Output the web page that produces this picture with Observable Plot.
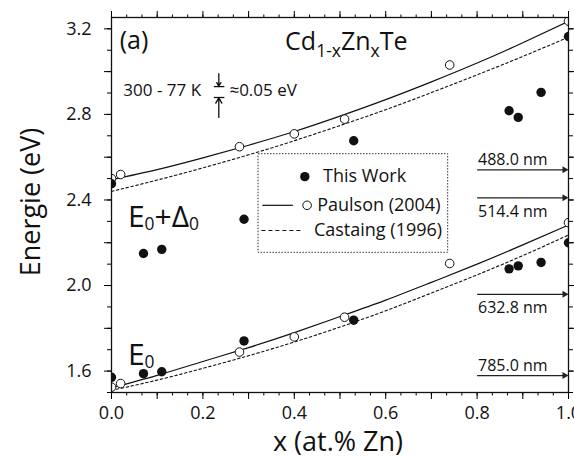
<!DOCTYPE html>
<html><head><meta charset="utf-8">
<script src="https://cdn.jsdelivr.net/npm/d3@7"></script>
<script src="https://cdn.jsdelivr.net/npm/@observablehq/plot@0.6"></script>
<style>
html,body{margin:0;padding:0;background:#fff;}
#chart svg{display:block;}
</style></head><body><div id="chart"></div>
<script>
// ---- data ----
const thisWorkX    = [0, 0.07, 0.11, 0.29, 0.53, 0.87, 0.89, 0.94, 1.0];
const thisWorkE0   = [1.571, 1.588, 1.597, 1.741, 1.838, 2.078, 2.092, 2.108, 2.200];
const thisWorkE0D0 = [2.476, 2.150, 2.169, 2.310, 2.677, 2.817, 2.786, 2.903, 3.164];

const paulsonX    = [0, 0.02, 0.28, 0.40, 0.51, 0.74, 1.0];
const paulsonE0   = [1.525, 1.542, 1.689, 1.760, 1.852, 2.103, 2.294];
const paulsonE0D0 = [2.500, 2.519, 2.649, 2.709, 2.778, 3.031, 3.236];

const curveX = [0, 0.1, 0.2, 0.3, 0.4, 0.5, 0.6, 0.7, 0.8, 0.9, 1.0];
const paulsonCurveE0    = [1.522, 1.580, 1.645, 1.710, 1.780, 1.855, 1.932, 2.015, 2.100, 2.190, 2.283];
const paulsonCurveE0D0  = [2.495, 2.542, 2.597, 2.656, 2.720, 2.792, 2.869, 2.952, 3.040, 3.135, 3.235];
const castaingCurveE0   = [1.510, 1.558, 1.613, 1.672, 1.736, 1.806, 1.882, 1.965, 2.050, 2.140, 2.236];
const castaingCurveE0D0 = [2.440, 2.493, 2.550, 2.611, 2.677, 2.748, 2.822, 2.902, 2.985, 3.071, 3.161];

const laserLabels = ["488.0 nm", "514.4 nm", "632.8 nm", "785.0 nm"];
const laserEnergy = [2.541, 2.410, 1.959, 1.579];
const laserLabelAbove = [true, false, false, true];

const legendLabels = ["This Work", "Paulson (2004)", "Castaing (1996)"];

const xLabelTicks = [0, 0.2, 0.4, 0.6, 0.8, 1];
const yLabelTicks = [1.6, 2.0, 2.4, 2.8, 3.2];
const xMajorTicks = [0, 0.1, 0.2, 0.3, 0.4, 0.5, 0.6, 0.7, 0.8, 0.9, 1];
const xMinorTicks = d3.range(0, 31).map(i => i / 30);
const yMajorTicks = [1.6, 1.8, 2.0, 2.2, 2.4, 2.6, 2.8, 3.0, 3.2];
const yMinorTicks = [1.5, 1.6, 1.7, 1.8, 1.9, 2.0, 2.1, 2.2, 2.3, 2.4, 2.5, 2.6, 2.7, 2.8, 2.9, 3.0, 3.1, 3.2];

// ---- tables ----
const thisWork = thisWorkX.flatMap((x, i) => [{x, y: thisWorkE0[i]}, {x, y: thisWorkE0D0[i]}]);
const paulson  = paulsonX.flatMap((x, i) => [{x, y: paulsonE0[i]}, {x, y: paulsonE0D0[i]}]);
const rows = (ys, band) => curveX.map((x, i) => ({x, y: ys[i], band}));
const paulsonCurves  = [...rows(paulsonCurveE0, "E0"), ...rows(paulsonCurveE0D0, "E0D0")];
const castaingCurves = [...rows(castaingCurveE0, "E0"), ...rows(castaingCurveE0D0, "E0D0")];
const lasers = laserLabels.map((label, i) => ({label, e: laserEnergy[i], above: laserLabelAbove[i]}));

const FONT = "Open Sans";
const ink = "#111";

const plot = Plot.plot({
  width: 574, height: 457,
  marginLeft: 111, marginRight: 6, marginTop: 17, marginBottom: 65,
  x: {domain: [0, 1], label: null},
  y: {domain: [1.5, 3.253], label: null},
  style: {fontFamily: FONT, fontSize: "18px", background: "white", color: "black", overflow: "visible"},
  marks: [
    // legend box
    Plot.rect([0], {x1: 0.3217, x2: 0.7367, y1: 2.153, y2: 2.614, fill: "white", stroke: "#333", strokeWidth: 1, strokeDasharray: "1.5,1.5"}),
    // curves
    Plot.line(paulsonCurves, {x: "x", y: "y", z: "band", curve: "natural", stroke: ink, strokeWidth: 1.2, clip: true}),
    Plot.line(castaingCurves, {x: "x", y: "y", z: "band", curve: "natural", stroke: ink, strokeWidth: 1.1, strokeDasharray: "2.5,2.5", clip: true}),
    // points
    Plot.dot(paulson, {x: "x", y: "y", r: 4.3, fill: "white", stroke: ink, strokeWidth: 1, clip: true}),
    Plot.dot(thisWork, {x: "x", y: "y", r: 4.7, fill: ink, stroke: "none", clip: true}),
    // laser lines
    Plot.link(lasers, {x1: 0.8, x2: 0.99, y1: "e", y2: "e", stroke: "#222", strokeWidth: 1.2}),
    Plot.dot(lasers, {x: 1, y: "e", symbol: "triangle", rotate: 90, r: 2.6, fill: "#222", dx: -4}),
    Plot.text(lasers.filter(d => d.above), {x: 0.802, y: "e", text: "label", dy: -10, textAnchor: "start", fontSize: 16, fill: ink}),
    Plot.text(lasers.filter(d => !d.above), {x: 0.802, y: "e", text: "label", dy: 14, textAnchor: "start", fontSize: 16, fill: ink}),
    // legend content
    Plot.dot([0], {x: 0.423, y: 2.509, r: 4.7, fill: ink}),
    Plot.text([legendLabels[0]], {x: 0.463, y: 2.509, text: d => d, textAnchor: "start", fontSize: 18, fill: ink}),
    Plot.link([0], {x1: 0.330, x2: 0.397, y1: 2.375, y2: 2.375, stroke: ink, strokeWidth: 1.2}),
    Plot.dot([0], {x: 0.428, y: 2.375, r: 4.3, fill: "white", stroke: ink, strokeWidth: 1}),
    Plot.text([legendLabels[1]], {x: 0.450, y: 2.375, text: d => d, textAnchor: "start", fontSize: 18, fill: ink}),
    Plot.link([0], {x1: 0.328, x2: 0.417, y1: 2.257, y2: 2.257, stroke: ink, strokeWidth: 1.1, strokeDasharray: "4,3"}),
    Plot.text([legendLabels[2]], {x: 0.443, y: 2.257, text: d => d, textAnchor: "start", fontSize: 18, fill: ink}),
    // 300-77 K annotation
    Plot.arrow([{x1: 0.2348, y1: 2.990, x2: 0.2348, y2: 2.932}, {x1: 0.2348, y1: 2.786, x2: 0.2348, y2: 2.877}],
      {x1: "x1", y1: "y1", x2: "x2", y2: "y2", headLength: 7, strokeWidth: 1.3, stroke: ink}),
    Plot.link([2.930, 2.879], {x1: 0.224, x2: 0.247, y1: d => d, y2: d => d, stroke: ink, strokeWidth: 1.3}),
    Plot.text(["300 - 77 K"], {x: 0.196, y: 2.911, text: d => d, textAnchor: "end", fontSize: 17, fill: ink}),
    Plot.text(["≈0.05 eV"], {x: 0.258, y: 2.911, text: d => d, textAnchor: "start", fontSize: 17, fill: ink}),
    Plot.text(["(a)"], {x: 0.018, y: 3.145, text: d => d, textAnchor: "start", fontSize: 25, fill: ink}),
    // axes: ticks
    Plot.axisX({anchor: "bottom", ticks: xMinorTicks, tickSize: 3.5, tickFormat: () => "", strokeWidth: 1}),
    Plot.axisX({anchor: "bottom", ticks: xMajorTicks, tickSize: 7, tickFormat: () => "", strokeWidth: 1}),
    Plot.axisX({anchor: "top", ticks: xMinorTicks, tickSize: 3.5, tickFormat: () => "", strokeWidth: 1}),
    Plot.axisX({anchor: "top", ticks: xMajorTicks, tickSize: 7, tickFormat: () => "", strokeWidth: 1}),
    Plot.axisY({anchor: "left", ticks: yMinorTicks, tickSize: 4, tickFormat: () => "", strokeWidth: 1}),
    Plot.axisY({anchor: "left", ticks: yMajorTicks, tickSize: 7, tickFormat: () => "", strokeWidth: 1}),
    Plot.axisY({anchor: "right", ticks: yMinorTicks, tickSize: 4, tickFormat: () => "", strokeWidth: 1}),
    Plot.axisY({anchor: "right", ticks: yMajorTicks, tickSize: 7, tickFormat: () => "", strokeWidth: 1}),
    // axes: labels
    Plot.axisX({anchor: "bottom", ticks: xLabelTicks, tickSize: 0, tickPadding: 13.5, fontSize: 18, fill: ink}),
    Plot.axisY({anchor: "left", ticks: yLabelTicks, tickSize: 0, tickPadding: 20, tickFormat: d3.format(".1f"), fontSize: 18, fill: ink}),
    // axis titles
    Plot.text(["x (at.% Zn)"], {frameAnchor: "bottom", text: d => d, dy: 58, lineAnchor: "bottom", textAnchor: "middle", fontSize: 27, fill: ink, dx: -2}),
    Plot.text(["Energie (eV)"], {frameAnchor: "left", text: d => d, dx: -72, dy: -3, rotate: -90, lineAnchor: "bottom", textAnchor: "middle", fontSize: 27, fill: ink}),
    Plot.frame({stroke: ink, strokeWidth: 1.3})
  ]
});

document.getElementById("chart").appendChild(plot);

// rich labels with subscripts, placed through the plot's scales
const X = plot.scale("x"), Y = plot.scale("y");
function rich(parts, x, y, size, subScale, shift) {
  const t = d3.select(plot).append("text")
    .attr("x", X.apply(x)).attr("y", Y.apply(y))
    .attr("text-anchor", "start")
    .attr("font-size", size).attr("font-family", FONT).attr("fill", ink);
  let down = false;
  for (const [s, sub] of parts) {
    const ts = t.append("tspan").text(s);
    if (sub && !down) { ts.attr("dy", shift * size).attr("font-size", size * subScale); down = true; }
    else if (sub) { ts.attr("font-size", size * subScale); }
    else if (down) { ts.attr("dy", -shift * size); down = false; }
  }
}
rich([["Cd"], ["1-x", true], ["Zn"], ["x", true], ["Te"]], 0.381, 3.098, 25, 0.7, 0.26);
rich([["E"], ["0", true], ["+Δ"], ["0", true]], 0.037, 2.273, 30, 0.58, 0.12);
rich([["E"], ["0", true]], 0.037, 1.627, 30, 0.58, 0.12);
</script>
</body></html>
